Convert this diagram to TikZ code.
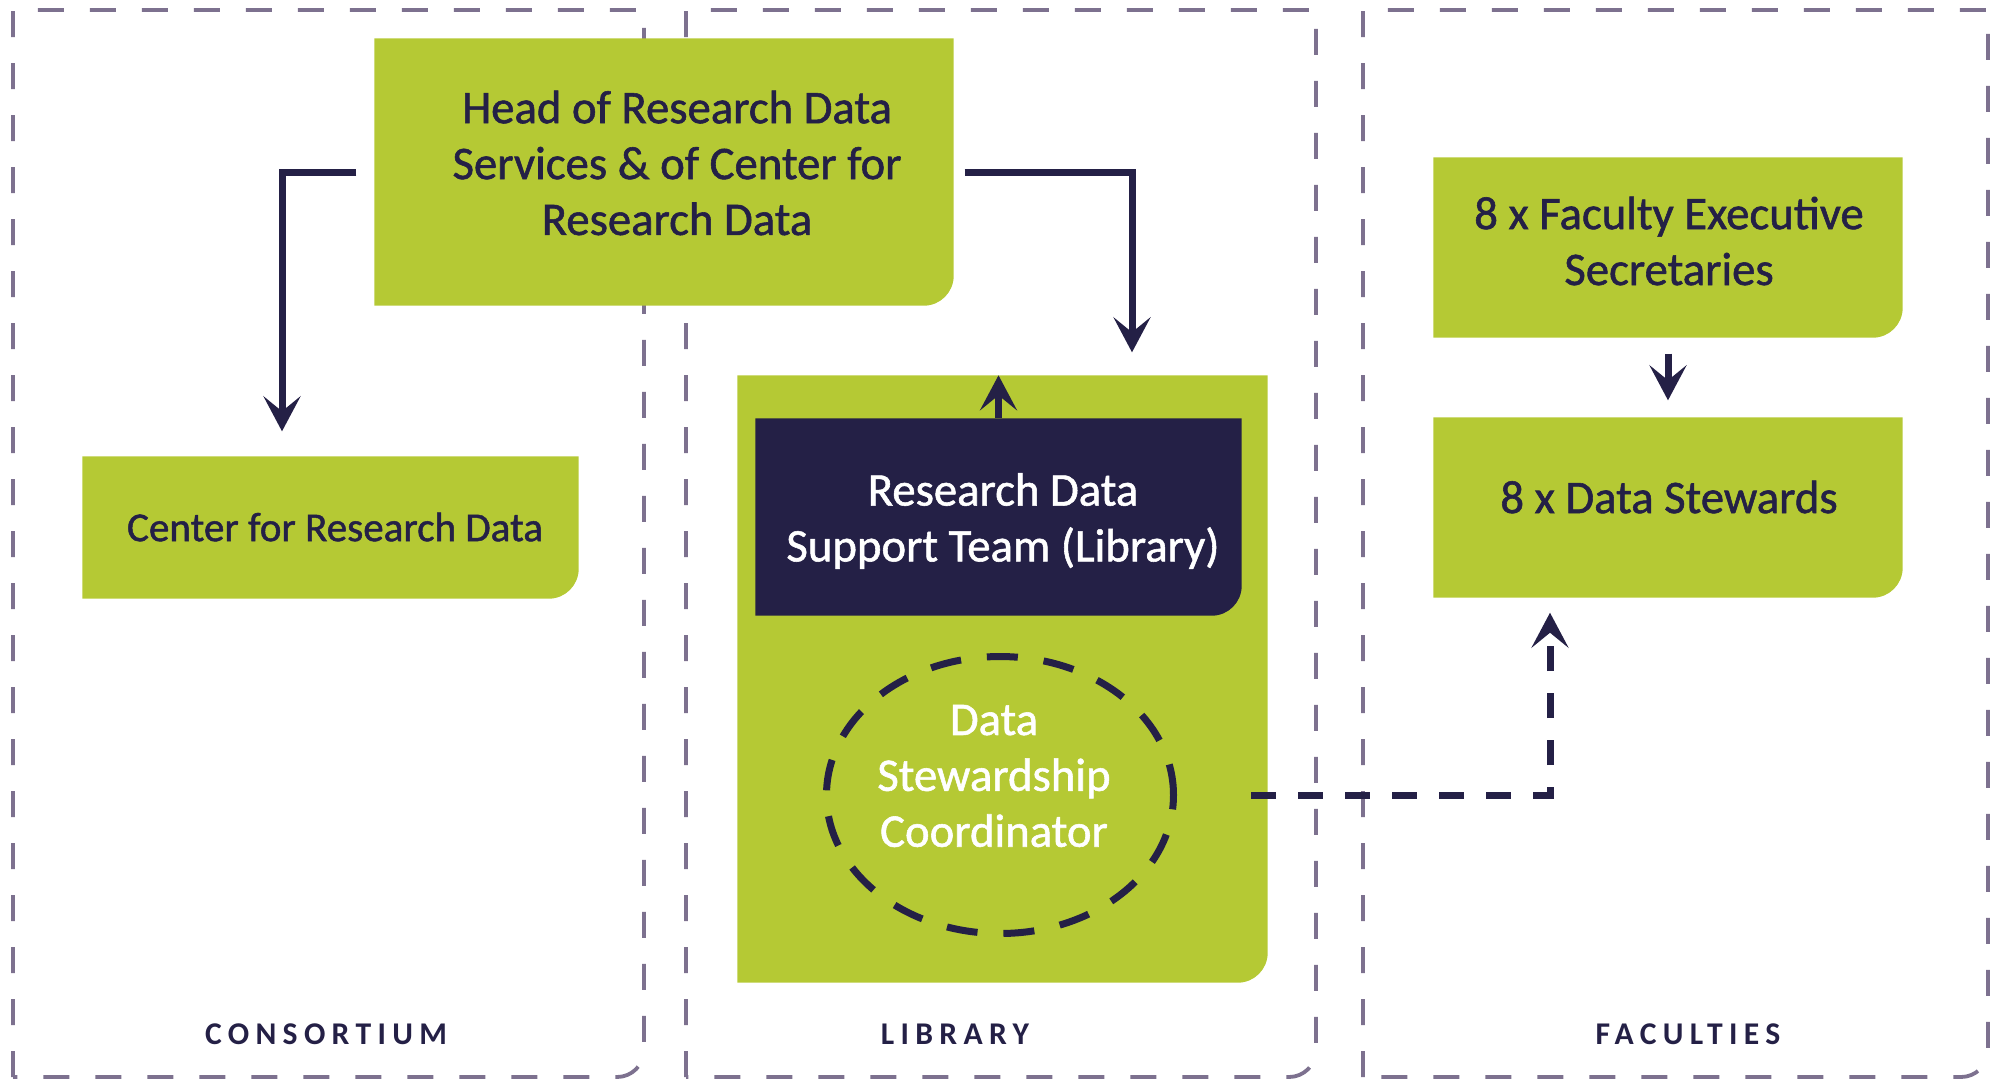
\documentclass[tikz,border=0pt]{standalone}
\usepackage{fontspec}
\setmainfont{Carlito}
\usetikzlibrary{arrows.meta,shapes.geometric,backgrounds}
\definecolor{LeafCol}{RGB}{181,201,52}
\definecolor{NavyCol}{RGB}{36,32,70}
\definecolor{PanelCol}{RGB}{125,113,143}
\tikzstyle{card} = [rectangle, inner sep=0pt]
\tikzstyle{cardtext} = [inner sep=0pt, align=center, font=\fontsize{13.3}{15.9}\selectfont\addfontfeature{FakeBold=1.2}, text=NavyCol]
\tikzstyle{link} = [-{Stealth[length=3.5mm,width=3.7mm,inset=1.5mm]}, NavyCol, line width=0.7mm]
\tikzstyle{panel} = [PanelCol, line width=0.38mm, dash pattern=on 2.6mm off 2.6mm]
\tikzstyle{unit} = [font=\fontsize{9}{10}\selectfont\bfseries\addfontfeature{LetterSpace=20}, text=NavyCol]

\begin{document}
\begin{tikzpicture}[x=0.1mm, y=0.1mm]
\useasboundingbox (0,0) rectangle (1992,-1080);

% boxes
\node[card, minimum width=57.8mm, minimum height=26.6mm] (head) at (664,-172) {};
\node[card, minimum width=49.5mm, minimum height=14.1mm] (crd) at (330.5,-527.5) {};
\node[card, minimum width=52.9mm, minimum height=60.6mm] (lib) at (1002.5,-679) {};
\node[card, minimum width=48.5mm, minimum height=19.6mm] (sup) at (998.5,-517) {};
\node[ellipse, draw=NavyCol, line width=0.7mm, dash pattern=on 3.1mm off 2.6mm, minimum width=34.7mm, minimum height=27.7mm] (dsc) at (1000,-795) {};
\node[card, minimum width=46.8mm, minimum height=17.9mm] (fes) at (1668,-247.5) {};
\node[card, minimum width=46.8mm, minimum height=17.9mm] (ds) at (1668,-507.5) {};

% texts
\node[cardtext] (headtext) at (677,-163) {Head of Research Data\\Services \& of Center for\\Research Data};
\node[cardtext, font=\fontsize{11.7}{14}\selectfont\addfontfeature{FakeBold=1.2}] (crdtext) at (335,-527) {Center for Research Data};
\node[cardtext, text=white] (suptext) at (1003,-521) {Research Data\\Support Team (Library)};
\node[cardtext, text=white] (dsctext) at (994,-776) {Data\\Stewardship\\Coordinator};
\node[cardtext] (festext) at (1669,-241) {8 x Faculty Executive\\Secretaries};
\node[cardtext] (dstext) at (1669,-497) {8 x Data Stewards};

% unit labels
\node[unit] (consortium) at (326,-1034) {CONSORTIUM};
\node[unit] (library) at (955,-1034) {LIBRARY};
\node[unit] (faculties) at (1688,-1034) {FACULTIES};

% panels and box fills
\begin{scope}[on background layer]
\foreach \l/\r in {13/644, 686/1316, 1363/1988}
  \draw[panel] (\l,-1077) -- (\l,-10) -- (\r,-10) -- (\r,-1050) arc[start angle=0, end angle=-90, radius=2.7mm] -- cycle;
\foreach \n/\c in {head/LeafCol, crd/LeafCol, lib/LeafCol, sup/NavyCol, fes/LeafCol, ds/LeafCol}
  \fill[\c] (\n.south west) -- (\n.north west) -- (\n.north east) -- ([yshift=3mm]\n.south east) arc[start angle=0, end angle=-90, radius=3mm] -- cycle;
\end{scope}

% arrows
\draw[link, shorten <=1.8mm, shorten >=2.5mm] (head.west) -| ([xshift=-4.85mm]crd.north);
\draw[link, shorten <=1.1mm, shorten >=2.3mm] (head.east) -| ([xshift=12.95mm]lib.north);
\draw[link] (sup.north) -- (sup.north |- lib.north);
\draw[link, shorten <=1.6mm, shorten >=1.7mm] (fes) -- (ds);
\draw[link, dash pattern=on 2.5mm off 2.2mm, shorten <=7.4mm, shorten >=1.5mm] (dsc.east) -| ([xshift=-11.8mm]ds.south);

\end{tikzpicture}
\end{document}
